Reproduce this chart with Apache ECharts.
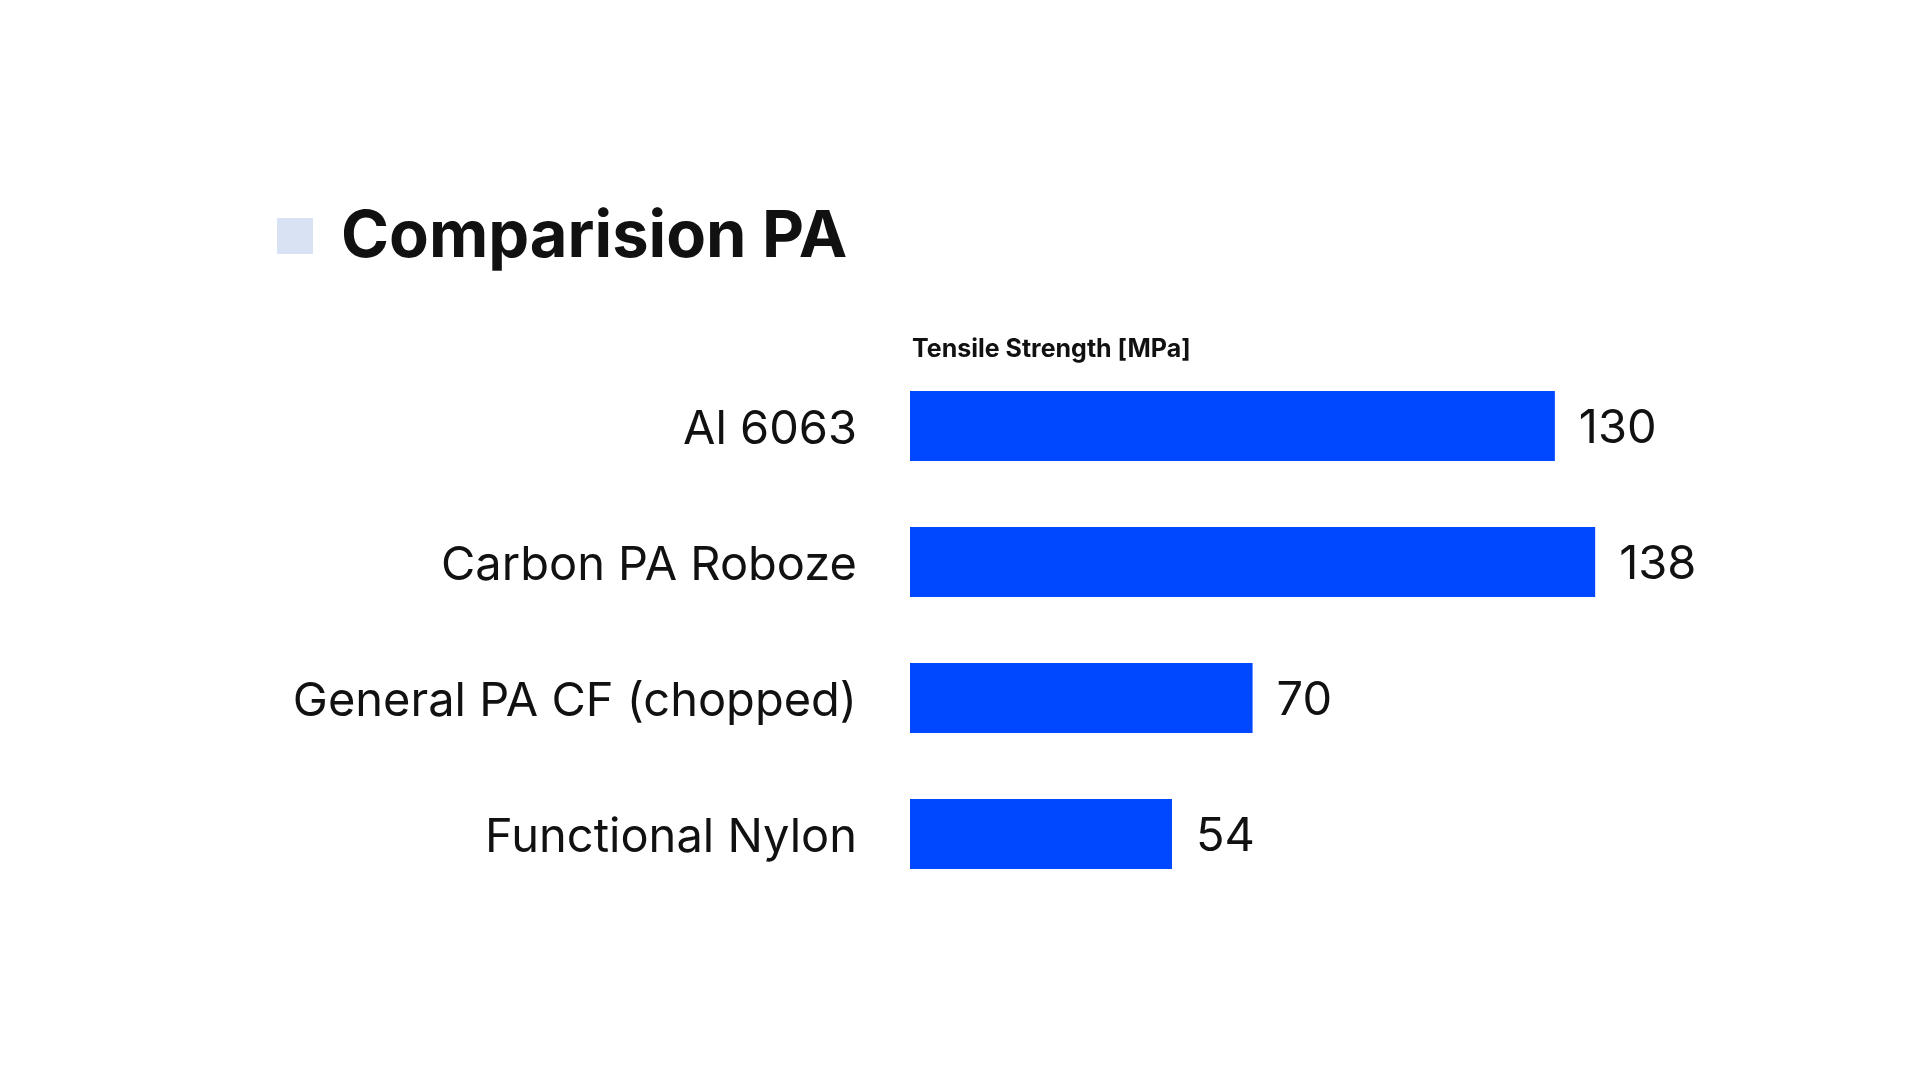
<!DOCTYPE html>
<html>
<head>
<meta charset="utf-8">
<script src="https://cdn.jsdelivr.net/npm/echarts@6/dist/echarts.min.js"></script>
<style>
html,body{margin:0;padding:0;background:#fff;}
#c{width:1920px;height:1080px;}
</style>
</head>
<body>
<div id="c"></div>
<script>
const categories = ['Al 6063', 'Carbon PA Roboze', 'General PA CF (chopped)', 'Functional Nylon'];
const values = [130, 138, 70, 54];
const chartTitle = 'Comparision PA';
const axisTitle = 'Tensile Strength [MPa]';

const FONT = 'Inter';
const chart = echarts.init(document.getElementById('c'));
chart.setOption({
  backgroundColor: '#ffffff',
  animation: false,
  textStyle: { fontFamily: FONT },
  title: [
    { text: chartTitle, left: 336, top: 200,
      textStyle: { fontFamily: FONT, fontSize: 65, fontWeight: 'bold', color: '#111111' } },
    { text: axisTitle, left: 907, top: 332,
      textStyle: { fontFamily: FONT, fontSize: 25, fontWeight: 'bold', color: '#111111' } }
  ],
  graphic: [
    { type: 'rect', left: 277, top: 218, shape: { width: 36, height: 36 }, style: { fill: '#d9e2f3' } }
  ],
  grid: { left: 910, top: 358, width: 796, height: 544, containLabel: false },
  xAxis: {
    type: 'value', min: 2, max: 160,
    show: false
  },
  yAxis: {
    type: 'category', data: categories, inverse: true,
    axisLine: { show: false }, axisTick: { show: false }, splitLine: { show: false },
    axisLabel: {
      margin: 53,
      formatter: function (v) { return '{c|' + v + '}'; },
      rich: { c: { fontFamily: FONT, fontSize: 47, color: '#111111', padding: [8, 0, 0, 0] } }
    }
  },
  series: [{
    type: 'bar', data: values, barWidth: 70,
    itemStyle: { color: '#0048ff' },
    label: { show: true, position: 'right', distance: 24, offset: [0, 3],
      fontFamily: FONT, fontSize: 47, color: '#111111' }
  }]
});
</script>
</body>
</html>
